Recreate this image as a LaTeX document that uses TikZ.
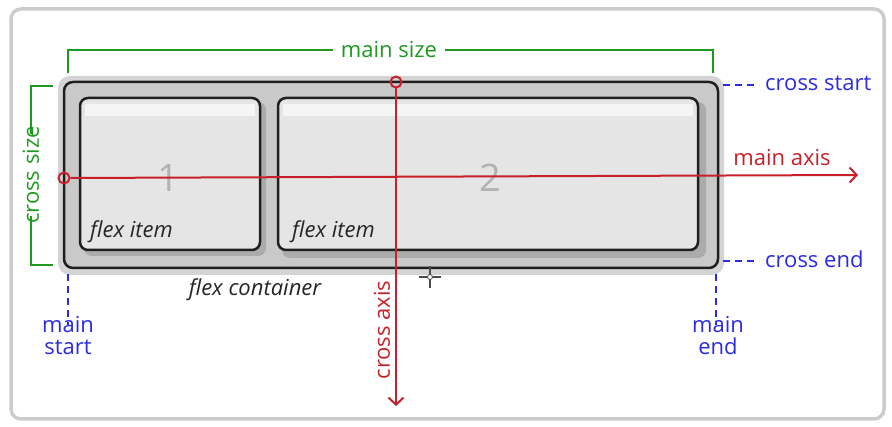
\documentclass[tikz,border=0pt]{standalone}
\usepackage{fontspec}
\setmainfont{Open Sans}
\usetikzlibrary{arrows.meta}
\definecolor{grn}{HTML}{1E9A1E}
\definecolor{blu}{HTML}{2B2BE6}
\definecolor{rd}{HTML}{C8202A}
\definecolor{frame}{HTML}{CCCCCC}
\tikzset{
  lbl/.style={font=\fontsize{22}{22}\selectfont, inner sep=0pt},
  grnlbl/.style={lbl, text=grn},
  blulbl/.style={lbl, text=blu, align=center},
  rdlbl/.style={lbl, text=rd},
  itemlbl/.style={lbl, font=\fontsize{22}{22}\selectfont\itshape, text=black!85},
  numlbl/.style={inner sep=0pt, font=\fontsize{38}{38}\selectfont, text=black!30},
  bracket/.style={draw=grn, line width=2pt},
  dashblue/.style={draw=blu, line width=2pt, dash pattern=on 7pt off 5pt},
  axis/.style={draw=rd, line width=2pt},
  itembox/.style={draw=black!88, line width=2.5pt, fill=black!10, rounded corners=8pt},
}
\begin{document}
\begin{tikzpicture}[x=1pt,y=-1pt]
\useasboundingbox (0,0) rectangle (892,427);
% outer frame
\draw[frame, line width=3.5pt, fill=white, rounded corners=10pt] (11,9) rectangle (884,419);
% container shadow blob
\fill[black!17, rounded corners=12pt] (58,76) rectangle (724,275);
% container
\draw[black!88, line width=2.5pt, fill=black!21, rounded corners=9pt] (64,82) rectangle (718,268);
% item shadows
\fill[black!33, rounded corners=8pt] (84,102) rectangle (266,256);
\fill[black!33, rounded corners=8pt] (282,102) rectangle (706,258);
% items
\draw[itembox] (80,98) rectangle (260,250);
\draw[itembox] (278,98) rectangle (698,250);
\fill[black!4] (85,104) rectangle (255,116);
\fill[black!4] (283,104) rectangle (693,116);
\node[numlbl] (n1) at (168,178) {1};
\node[numlbl] (n2) at (490,178) {2};
\node[itemlbl, anchor=west] (fi1) at (90,232) {flex item};
\node[itemlbl, anchor=west] (fi2) at (292,232) {flex item};
\node[itemlbl] (fc) at (255,290) {flex container};
% main size
\node[grnlbl] (ms) at (389,50) {main size};
\coordinate (msl) at (68,73);
\coordinate (msr) at (713,73);
\draw[bracket] ([xshift=-8pt]ms.west) -| (msl);
\draw[bracket] ([xshift=8pt]ms.east) -| (msr);
% cross size
\node[grnlbl, rotate=90] (cs) at (31,175) {cross size};
\coordinate (cst) at (53,86);
\coordinate (csb) at (53,265);
\draw[bracket] ([yshift=-8pt]cs.east) |- (cst);
\draw[bracket] ([yshift=8pt]cs.west) |- (csb);
% cross start / end
\node[blulbl, anchor=west] (cstart) at (765,83) {cross start};
\node[blulbl, anchor=west] (cend) at (765,259) {cross end};
\coordinate (cs0) at (723,85);
\coordinate (ce0) at (723,261);
\draw[dashblue] (cs0) -- ([xshift=-6pt]cs0 -| cstart.west);
\draw[dashblue] (ce0) -- ([xshift=-6pt]ce0 -| cend.west);
% main start / end
\node[blulbl] (mstart) at (68,336) {main\\start};
\node[blulbl] (mend) at (718,336) {main\\end};
\coordinate (ms0) at (68,274);
\coordinate (me0) at (716,274);
\draw[dashblue] (ms0) -- ([yshift=-8pt]ms0 |- mstart.north);
\draw[dashblue] (me0) -- ([yshift=-8pt]me0 |- mend.north);
% main axis
\node[draw=rd, line width=2pt, circle, minimum size=11pt, inner sep=0pt] (mo) at (64,178) {};
\coordinate (mx) at (858,175);
\draw[axis, -{Straight Barb[length=7pt,width=15pt]}] (mo.east) -- (mx);
\node[rdlbl] (mal) at (782,158) {main axis};
% cross axis
\node[draw=rd, line width=2pt, circle, minimum size=11pt, inner sep=0pt] (co) at (396,82) {};
\coordinate (cx) at (396,406);
\draw[axis, -{Straight Barb[length=7pt,width=15pt]}] (co.south) -- (cx);
\node[rdlbl, rotate=90] (cal) at (382,330) {cross axis};
% cursor
\node[inner sep=0pt] (cur) at (430,277) {};
\draw[black!70, line width=1.2pt] ([xshift=-11pt]cur.center) -- ([xshift=11pt]cur.center);
\draw[black!70, line width=1.2pt] ([yshift=-11pt]cur.center) -- ([yshift=11pt]cur.center);
\draw[black!70, fill=white, line width=0.8pt] (cur.center) circle (2.5pt);
\end{tikzpicture}
\end{document}
